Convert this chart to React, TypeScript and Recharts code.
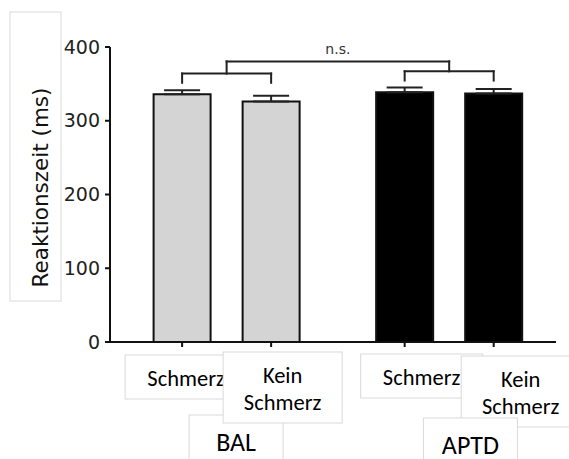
import { Bar, BarChart, Cell, ErrorBar, ReferenceDot, ReferenceLine, XAxis, YAxis } from "recharts"

// bar positions on the x axis (gap between the two groups)
const positions = [1, 2, 3.5, 4.5]
const conditions = ["Schmerz", "Kein Schmerz", "Schmerz", "Kein Schmerz"]
const groups = ["BAL", "APTD"]
const means = [336, 326, 338.5, 337]
const sems = [5.5, 8, 6.5, 6]
const yTicks = [0, 100, 200, 300, 400]

// significance brackets (in data units)
const pairBrackets = [
  { from: 1, to: 2, bar: 364, leg: 351.5 },
  { from: 3.5, to: 4.5, bar: 367, leg: 354.5 },
]
const topBracket = 380.5
const sigLabel = "n.s."

const barColors = ["#d4d4d4", "#d4d4d4", "#000000", "#000000"]
// hand placed text boxes below the axis, shift from tick in px
const labelShift = [4, 11.5, 17, 27]
const groupShift = [-35, -23.3]

const data = positions.map((x, i) => ({ x, mean: means[i], err: [0, sems[i]] }))

const segments: { x: number; y: number }[][] = []
pairBrackets.forEach((b) => {
  const mid = (b.from + b.to) / 2
  segments.push([{ x: b.from, y: b.bar }, { x: b.to, y: b.bar }])
  segments.push([{ x: b.from, y: b.leg }, { x: b.from, y: b.bar }])
  segments.push([{ x: b.to, y: b.leg }, { x: b.to, y: b.bar }])
  segments.push([{ x: mid, y: b.bar }, { x: mid, y: topBracket }])
})
const mids = pairBrackets.map((b) => (b.from + b.to) / 2)
segments.push([{ x: mids[0], y: topBracket }, { x: mids[1], y: topBracket }])

const labelFont = "Carlito, Calibri, Lato, sans-serif"
const boxStroke = "#d9d9d9"

function CategoryTick(props: any) {
  const { x, y, payload } = props
  const i = positions.indexOf(payload.value)
  if (i < 0) return null
  const lines = conditions[i].split(" ")
  const cx = x + labelShift[i]
  const twoLine = lines.length > 1
  const boxW = twoLine ? 119 : 122
  const boxH = twoLine ? 71 : 44
  const top = y + (twoLine ? (i === 1 ? 5 : 9) : i === 0 ? 8 : 7)
  const gi = i === 1 ? 0 : i === 3 ? 1 : -1
  const groupBox = (g: number) => {
    const gx = x + groupShift[g]
    const gt = y + (g === 0 ? 68 : 71)
    return (
      <g>
        <rect x={gx - 47} y={gt} width={94} height={70} fill="#fff" stroke={boxStroke} />
        <text x={gx} y={gt + 36} textAnchor="middle" fontFamily={labelFont} fontSize={26} fill="#000">
          {groups[g]}
        </text>
      </g>
    )
  }
  return (
    <g>
      {gi === 0 && groupBox(0)}
      <rect x={cx - boxW / 2} y={top} width={boxW} height={boxH} fill="#fff" stroke={boxStroke} />
      {lines.map((t, k) => (
        <text
          key={k}
          x={cx}
          y={top + 31 + k * 27}
          textAnchor="middle"
          fontFamily={labelFont}
          fontSize={22.5}
          fill="#000"
        >
          {t}
        </text>
      ))}
      {gi === 1 && groupBox(1)}
    </g>
  )
}

function YTitle(props: any) {
  const vb = props.viewBox || { x: 50, y: 47 }
  const tx = vb.x - 2
  const ty = vb.y + 140.5
  return (
    <g>
      <rect x={vb.x - 40} y={vb.y - 35} width={51} height={289} fill="#fff" stroke={boxStroke} />
      <text
        x={tx}
        y={ty}
        transform={`rotate(-90, ${tx}, ${ty})`}
        textAnchor="middle"
        fontFamily="DejaVu Sans"
        fontSize={21.5}
        fill="#111"
      >
        Reaktionszeit (ms)
      </text>
    </g>
  )
}

export default function App() {
  return (
    <div style={{ position: "absolute", left: 0, top: 0, width: 569, height: 459, background: "#fff" }}>
      <BarChart width={569} height={459} data={data} margin={{ top: 47, right: 13, bottom: 17, left: 50 }}>
        <YAxis
          width={60}
          domain={[0, 400]}
          ticks={yTicks}
          tickSize={5}
          tickMargin={5}
          stroke="#111"
          axisLine={{ stroke: "#111", strokeWidth: 2 }}
          tickLine={{ stroke: "#111", strokeWidth: 2 }}
          tick={{ fontFamily: "DejaVu Sans", fontSize: 19, fill: "#222" }}
          label={{ content: YTitle }}
        />
        <XAxis
          type="number"
          dataKey="x"
          domain={[0.19, 5.2]}
          ticks={positions}
          interval={0}
          height={100}
          tickSize={5}
          tickMargin={0}
          axisLine={{ stroke: "#111", strokeWidth: 2 }}
          tickLine={{ stroke: "#111", strokeWidth: 2 }}
          tick={<CategoryTick />}
        />
        {segments.map((s, k) => (
          <ReferenceLine key={k} segment={s} stroke="#222" strokeWidth={2} strokeLinecap="square" />
        ))}
        <ReferenceDot
          x={(mids[0] + mids[1]) / 2}
          y={topBracket}
          r={0}
          fill="none"
          stroke="none"
          label={{ value: sigLabel, position: "top", offset: 7, fontFamily: "DejaVu Sans", fontSize: 14, fill: "#333" }}
        />
        <Bar dataKey="mean" barSize={57} stroke="#111" strokeWidth={2} isAnimationActive={false}>
          {data.map((d, i) => (
            <Cell key={i} fill={barColors[i]} />
          ))}
          <ErrorBar dataKey="err" width={18} stroke="#222" strokeWidth={2} direction="y" />
        </Bar>
      </BarChart>
    </div>
  )
}
